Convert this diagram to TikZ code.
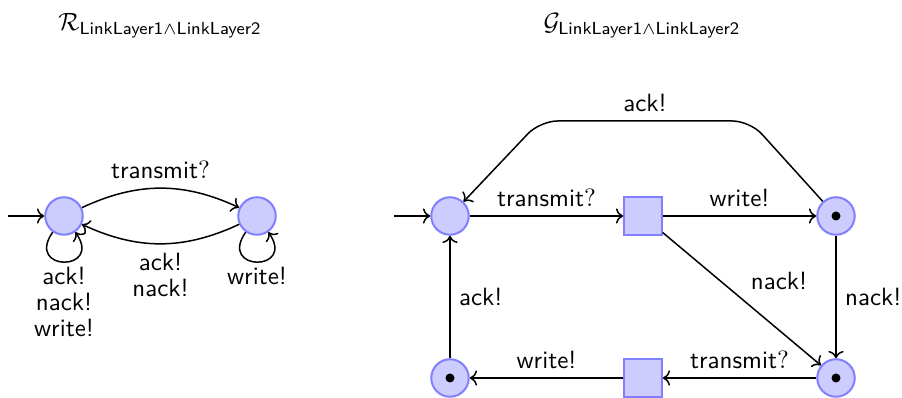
\documentclass[tikz,border=0pt]{standalone}
\usetikzlibrary{arrows.meta}
\newcommand{\subtxt}[1]{\mbox{\fontsize{7pt}{8pt}\selectfont\sffamily #1}}
\begin{document}
\begin{tikzpicture}[x=0.4pt,y=-0.4pt,font=\sffamily,
  state/.style={circle,draw=blue!50,fill=blue!20,line width=0.8pt,minimum size=15pt,inner sep=0pt},
  trans/.style={rectangle,draw=blue!50,fill=blue!20,line width=0.8pt,minimum size=15pt,inner sep=0pt},
  tok/.style={circle,fill=black,minimum size=3.6pt,inner sep=0pt},
  edge/.style={->,line width=0.6pt},
  lbl/.style={inner sep=3.33pt}]
\useasboundingbox (0,0) rectangle (902,398);
% titles
\node (t1) at (160,26) {$\mathcal{R}_{\subtxt{LinkLayer1$\wedge$LinkLayer2}}$};
\node (t2) at (642,26) {$\mathcal{G}_{\subtxt{LinkLayer1$\wedge$LinkLayer2}}$};
% left automaton
\node[state] (A) at (64,216) {};
\node[state] (B) at (257,216) {};
\coordinate (iA) at (8,216);
\draw[edge] (iA) -- (A);
\draw[edge] (A) to[bend left=25] node[above] {transmit$?$} (B);
\draw[edge] (B) to[bend left=25] node[below,align=center] {ack!\\[-1.6pt]nack!} (A);
\draw[edge] (A) to[out=-125,in=-55,looseness=5.5] node[below=-1.5pt,align=center] {ack!\\[-1.6pt]nack!\\[-1.6pt]write!} (A);
\draw[edge] (B) to[out=-125,in=-55,looseness=5.5] node[below=-1.5pt] {write!} (B);
% right automaton
\node[state] (P0) at (450,216) {};
\node[trans] (T1) at (643,216) {};
\node[state] (P2) at (836,216) {};
\node[state] (P3) at (836,378) {};
\node[trans] (T2) at (643,378) {};
\node[state] (P4) at (450,378) {};
\node[tok] (d2) at (P2) {};
\node[tok] (d3) at (P3) {};
\node[tok] (d4) at (P4) {};
\coordinate (iP) at (394,216);
\coordinate (c1) at (750,121);
\coordinate (c2) at (540,121);
\draw[edge] (iP) -- (P0);
\draw[edge] (P0) -- node[above] {transmit$?$} (T1);
\draw[edge] (T1) -- node[above] {write!} (P2);
\draw[edge,rounded corners=7pt] (P2) -- (c1) -- node[above] {ack!} (c2) -- (P0);
\draw[edge] (T1) -- node[above right] {nack!} (P3);
\draw[edge] (P2) -- node[right] {nack!} (P3);
\draw[edge] (P3) -- node[above] {transmit$?$} (T2);
\draw[edge] (T2) -- node[above] {write!} (P4);
\draw[edge] (P4) -- node[right] {ack!} (P0);
\end{tikzpicture}
\end{document}
